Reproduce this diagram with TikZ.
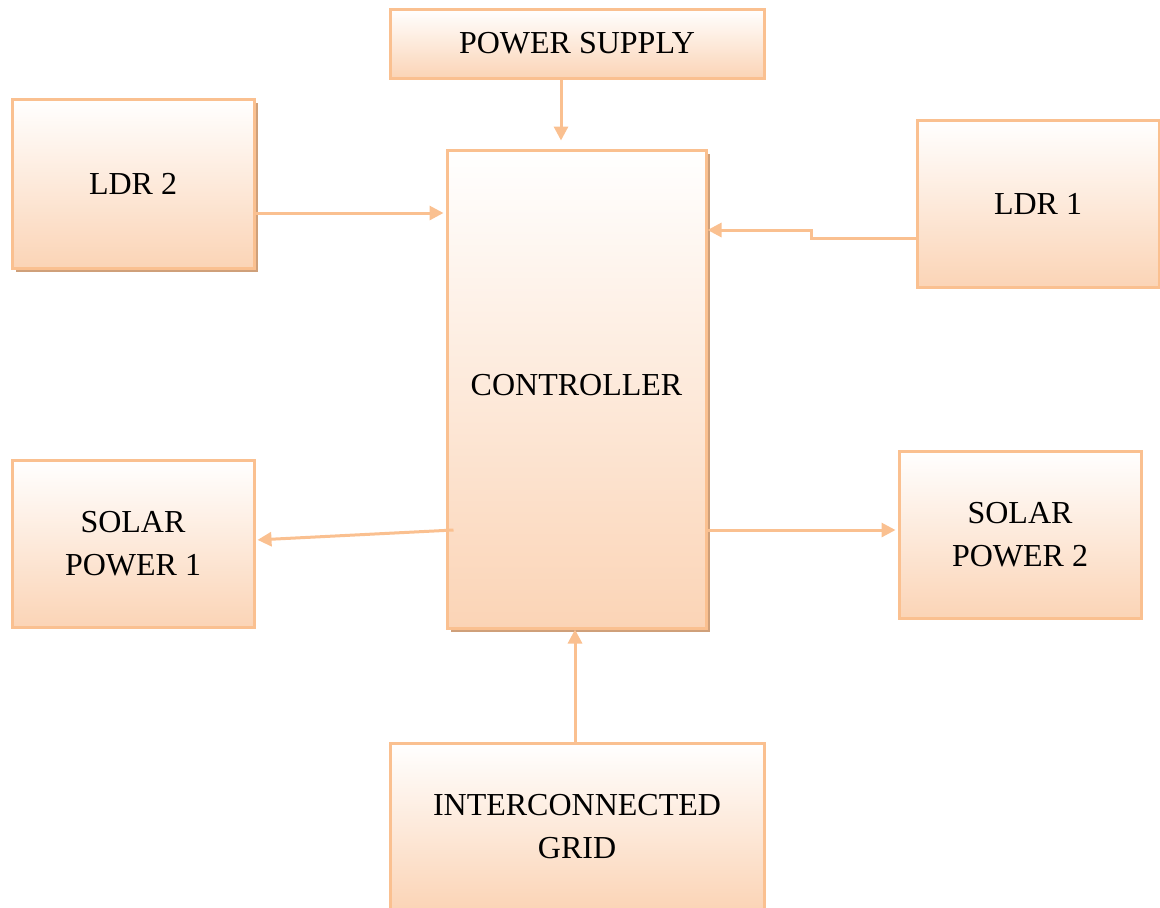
\documentclass[tikz,border=0pt]{standalone}
\usepackage{fontspec}
\setmainfont{Liberation Serif}
\usepackage{tikz}
\usetikzlibrary{arrows.meta, positioning, shadows, calc}
\definecolor{lineorange}{HTML}{FAC090}
\definecolor{peach}{HTML}{FBD4B6}
\definecolor{shadowtan}{HTML}{CFA07A}

\begin{document}
\begin{tikzpicture}[
  x=0.5pt, y=-0.5pt,
  font=\fontsize{16}{21.5}\selectfont,
  block/.style={draw=lineorange, line width=1.5pt, top color=white, bottom color=peach, align=center, inner sep=0pt},
  shade/.style={general shadow={fill=shadowtan, shadow xshift=2pt, shadow yshift=-2pt}},
  link/.style={draw=lineorange, line width=1.5pt, -{Triangle[length=7pt, width=7pt]}}
]
  \useasboundingbox (0,0) rectangle (1160,907);
  \node[block, minimum width=187pt, minimum height=34.5pt] (ps) at (577,43.5) {POWER SUPPLY};
  \node[block, shade, minimum width=121pt, minimum height=84.5pt] (ldr2) at (133,183.5) {LDR 2};
  \node[block, shade, minimum width=129.5pt, minimum height=239pt] (ctrl) at (576.5,389) {\raisebox{4.5pt}{CONTROLLER}};
  \node[block, minimum width=121pt, minimum height=83.5pt] (ldr1) at (1038,203.5) {LDR 1};
  \node[block, minimum width=121pt, minimum height=83.5pt] (sp1) at (133,543.5) {SOLAR\\POWER 1};
  \node[block, minimum width=121pt, minimum height=83.5pt] (sp2) at (1020,534.5) {SOLAR\\POWER 2};
  \node[block, minimum width=187pt, minimum height=83.5pt] (grid) at (577,826.5) {INTERCONNECTED\\GRID};
  \coordinate (bend) at (811,230);
  % connections
  \draw[link, shorten >=4pt] ([xshift=-8pt]ps.south) -- ([xshift=-8pt]ps.south |- ctrl.north);
  \draw[link, shorten >=1pt] ([yshift=-14.75pt]ldr2.east) -- ([yshift=-14.75pt]ldr2.east -| ctrl.west);
  \draw[link] ([yshift=-17.25pt]ldr1.west) -- ([yshift=-17.25pt]ldr1.west -| bend) -- (bend) -- (bend -| ctrl.east);
  \draw[link, shorten >=1pt] ([xshift=4pt, yshift=-70.5pt]ctrl.west) -- ([yshift=1.75pt]sp1.east);
  \draw[link, shorten >=1pt] ([yshift=-70.5pt]ctrl.east) -- ([yshift=-70.5pt]ctrl.east -| sp2.west);
  \draw[link] ([xshift=-1pt]grid.north) -- ([xshift=-1pt]grid.north |- ctrl.south);
\end{tikzpicture}
\end{document}
